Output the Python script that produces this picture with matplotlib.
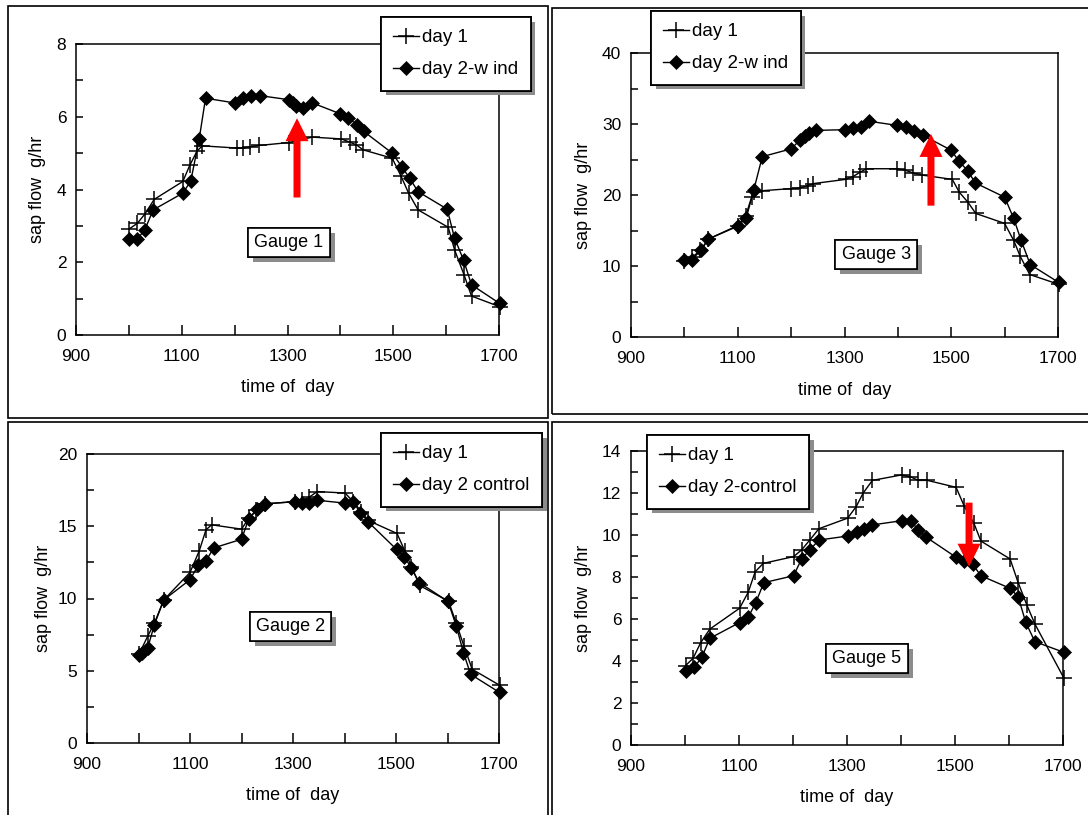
import matplotlib
matplotlib.use("Agg")
import matplotlib.pyplot as plt
import matplotlib.patheffects as pe
from matplotlib.patches import Rectangle
from matplotlib.ticker import MultipleLocator, FixedLocator

plt.rcParams['font.family'] = ['Liberation Sans', 'DejaVu Sans']

# Gauge 1 (wind on day 2)
g1_time_day1 = [1000, 1016, 1030, 1048, 1102, 1115, 1129, 1139, 1204, 1216, 1230, 1246, 1302,
                1347, 1402, 1418, 1430, 1443, 1498, 1515, 1529, 1547, 1604, 1616, 1634, 1648, 1701]
g1_flow_day1 = [2.91, 3.07, 3.32, 3.73, 4.22, 4.66, 5.06, 5.20, 5.14, 5.14, 5.18, 5.21, 5.29,
                5.44, 5.39, 5.30, 5.23, 5.09, 4.86, 4.36, 3.90, 3.44, 2.96, 2.34, 1.65, 1.07, 0.78]
g1_time_day2 = [1000, 1016, 1030, 1046, 1102, 1117, 1133, 1145, 1200, 1216, 1231, 1248, 1302, 1311,
                1317, 1330, 1347, 1400, 1415, 1432, 1444, 1498, 1517, 1531, 1547, 1602, 1616, 1633,
                1648, 1701]
g1_flow_day2 = [2.64, 2.64, 2.89, 3.44, 3.90, 4.23, 5.39, 6.51, 6.38, 6.51, 6.58, 6.58, 6.47, 6.38,
                6.30, 6.24, 6.38, 6.08, 5.96, 5.78, 5.60, 5.00, 4.61, 4.31, 3.94, 3.46, 2.66, 2.06,
                1.38, 0.87]

# Gauge 3 (wind on day 2)
g3_time_day1 = [1000, 1014, 1030, 1045, 1100, 1115, 1126, 1130, 1145, 1200, 1216, 1231, 1241, 1302,
                1316, 1329, 1341, 1399, 1413, 1429, 1446, 1502, 1515, 1531, 1546, 1600, 1617, 1629,
                1647, 1702]
g3_flow_day1 = [10.7, 11.2, 12.2, 13.8, 15.7, 17.1, 19.7, 20.4, 20.6, 20.9, 21.0, 21.3, 21.6, 22.2,
                22.6, 23.2, 23.7, 23.7, 23.5, 23.1, 22.8, 22.2, 20.4, 19.0, 17.4, 16.0, 13.6, 11.4,
                8.8, 7.4]
g3_time_day2 = [1000, 1014, 1031, 1045, 1100, 1116, 1130, 1146, 1200, 1216, 1226, 1234, 1246, 1301,
                1315, 1330, 1345, 1399, 1416, 1430, 1447, 1500, 1514, 1531, 1545, 1600, 1617, 1631,
                1648, 1701]
g3_flow_day2 = [10.8, 10.9, 12.2, 13.8, 15.6, 16.8, 20.7, 25.4, 26.5, 27.7, 28.3, 28.7, 29.1, 29.2,
                29.4, 29.6, 30.4, 29.8, 29.6, 29.0, 28.4, 26.3, 24.8, 23.4, 21.7, 19.7, 16.7, 13.6,
                10.2, 7.7]

# Gauge 2 (control on day 2)
g2_time_day1 = [1001, 1018, 1031, 1049, 1100, 1118, 1131, 1142, 1200, 1215, 1229, 1245, 1303, 1318,
                1331, 1347, 1401, 1417, 1433, 1446, 1502, 1517, 1530, 1546, 1602, 1617, 1632, 1648,
                1701]
g2_flow_day1 = [6.15, 7.4, 8.3, 9.9, 11.8, 13.3, 14.75, 15.1, 14.8, 15.6, 16.1, 16.55, 16.7, 16.8,
                17.0, 17.4, 17.3, 16.7, 16.0, 15.4, 14.5, 13.3, 12.2, 10.9, 9.8, 8.3, 6.7, 5.1, 4.0]
g2_time_day2 = [1001, 1006, 1018, 1031, 1049, 1100, 1116, 1131, 1146, 1200, 1214, 1231, 1246, 1303,
                1317, 1332, 1347, 1401, 1417, 1431, 1446, 1501, 1516, 1530, 1545, 1601, 1617, 1631,
                1645, 1701]
g2_flow_day2 = [6.1, 6.25, 6.6, 8.2, 9.9, 11.3, 12.3, 12.6, 13.5, 14.1, 15.5, 16.2, 16.55, 16.7,
                16.6, 16.6, 16.8, 16.6, 16.65, 15.95, 15.3, 13.4, 12.9, 12.1, 11.1, 9.8, 8.1, 6.25,
                4.75, 3.5]

# Gauge 5 (control on day 2)
g5_time_day1 = [1001, 1015, 1029, 1046, 1101, 1117, 1130, 1145, 1201, 1216, 1231, 1248, 1301, 1317,
                1330, 1347, 1401, 1417, 1432, 1449, 1502, 1517, 1535, 1548, 1602, 1617, 1633, 1648,
                1702]
g5_flow_day1 = [3.78, 4.13, 4.87, 5.52, 6.51, 7.27, 8.25, 8.65, 8.97, 9.29, 9.76, 10.3, 10.8, 11.35,
                12.0, 12.6, 12.86, 12.78, 12.6, 12.6, 12.27, 11.38, 10.56, 9.71, 8.86, 7.73, 6.67,
                5.76, 3.17]
g5_time_day2 = [1001, 1017, 1031, 1046, 1101, 1117, 1131, 1146, 1201, 1216, 1231, 1248, 1301, 1318,
                1331, 1347, 1401, 1418, 1432, 1447, 1502, 1517, 1533, 1548, 1602, 1617, 1631, 1648,
                1702]
g5_flow_day2 = [3.54, 3.70, 4.17, 5.08, 5.83, 6.08, 6.78, 7.73, 8.06, 8.86, 9.29, 9.76, 9.95, 10.16,
                10.29, 10.48, 10.68, 10.68, 10.24, 9.89, 8.94, 8.78, 8.60, 8.06, 7.46, 7.06, 5.84,
                4.92, 4.41]

x_labelled_ticks = [900, 1100, 1300, 1500, 1700]

W, H = 1088, 815
fig = plt.figure(figsize=(W / 100, H / 100), dpi=100)

shadow = [pe.withSimplePatchShadow(offset=(3.5, -3.5), shadow_rgbFace='0.55', alpha=1.0), pe.Normal()]

# outer frames around each of the four pasted plots (pixels: left, top, right, bottom)
for l, t, r, b in [(8, 6, 548, 418), (552, 8, 1092, 414), (8, 422, 548, 819), (552, 422, 1092, 819)]:
    fig.add_artist(Rectangle((l / W, 1 - b / H), (r - l) / W, (b - t) / H, transform=fig.transFigure,
                             fill=False, lw=1.2, ec='black'))

panels = [
    dict(box=(76, 44, 499, 335), ymax=8, ystep=2, t1=g1_time_day1, f1=g1_flow_day1,
         t2=g1_time_day2, f2=g1_flow_day2, lab2='day 2-w ind', gauge='Gauge 1', gpos=(0.503, 0.318),
         leg=(381, 17), ylx=-0.092, xly=-0.182, arrow=(1318, 3.78, 5.96)),
    dict(box=(631, 53, 1058, 337), ymax=40, ystep=10, t1=g3_time_day1, f1=g3_flow_day1,
         t2=g3_time_day2, f2=g3_flow_day2, lab2='day 2-w ind', gauge='Gauge 3', gpos=(0.574, 0.29),
         leg=(651, 11), ylx=-0.112, xly=-0.187, arrow=(1462, 18.5, 28.6)),
    dict(box=(87, 454, 499, 743), ymax=20, ystep=5, t1=g2_time_day1, f1=g2_flow_day1,
         t2=g2_time_day2, f2=g2_flow_day2, lab2='day 2 control', gauge='Gauge 2', gpos=(0.494, 0.403),
         leg=(381, 433), ylx=-0.106, xly=-0.18, arrow=None),
    dict(box=(631, 451, 1063, 745), ymax=14, ystep=2, t1=g5_time_day1, f1=g5_flow_day1,
         t2=g5_time_day2, f2=g5_flow_day2, lab2='day 2-control', gauge='Gauge 5', gpos=(0.546, 0.294),
         leg=(647, 435), ylx=-0.111, xly=-0.177, arrow=(1526, 11.54, 8.49)),
]

for p in panels:
    l, t, r, b = p['box']
    ax = fig.add_axes([l / W, 1 - b / H, (r - l) / W, (b - t) / H])
    ax.plot(p['t1'], p['f1'], color='black', lw=1.0, marker='+', ms=11, mew=1.1, clip_on=False,
            label='day 1', zorder=3)
    ax.plot(p['t2'], p['f2'], color='black', lw=1.0, marker='D', ms=6.8, mew=0.5, clip_on=False,
            label=p['lab2'], zorder=3)
    ax.set_xlim(900, 1700)
    ax.set_ylim(0, p['ymax'])
    ax.xaxis.set_major_locator(FixedLocator(x_labelled_ticks))
    ax.xaxis.set_minor_locator(MultipleLocator(100))
    ax.yaxis.set_major_locator(MultipleLocator(p['ystep']))
    ax.yaxis.set_minor_locator(MultipleLocator(p['ystep'] / 2))
    ax.tick_params(axis='x', which='both', direction='in', length=7, width=1.1, pad=10, labelsize=12.5)
    ax.tick_params(axis='y', which='both', direction='in', length=5, width=1.1, pad=7, labelsize=12.5)
    for s in ax.spines.values():
        s.set_linewidth(1.1)

    ax.set_xlabel('time of  day', fontsize=13)
    ax.set_ylabel('sap flow  g/hr', fontsize=13)
    ax.xaxis.set_label_coords(0.5, p['xly'])
    ax.yaxis.set_label_coords(p['ylx'], 0.5)
    ax.xaxis.label.set_verticalalignment('center')
    ax.yaxis.label.set_verticalalignment('center')

    gx, gy = p['gpos']
    gt = ax.text(gx, gy, p['gauge'], transform=ax.transAxes, ha='center', va='center', fontsize=13,
                 bbox=dict(boxstyle='square,pad=0.35', fc='white', ec='black', lw=1.2), zorder=5)
    gt.get_bbox_patch().set_path_effects(shadow)

    if p['arrow'] is not None:
        ax_x, y0, y1 = p['arrow']
        xpp = 800 / (r - l)
        ypp = p['ymax'] / (b - t)
        ax.arrow(ax_x, y0, 0, y1 - y0, width=7 * xpp, head_width=23 * xpp, head_length=23 * ypp,
                 length_includes_head=True, color='#ff0000', lw=0, zorder=6)

    lx, ly = p['leg']
    leg = ax.legend(loc='upper left', bbox_to_anchor=(lx / W, 1 - ly / H), bbox_transform=fig.transFigure,
                    fontsize=13.5, frameon=True, fancybox=False, edgecolor='black', framealpha=1,
                    handlelength=1.4, handletextpad=0.15, borderpad=0.65, labelspacing=0.8,
                    numpoints=1, borderaxespad=0)
    leg.get_frame().set_linewidth(1.3)
    leg.get_frame().set_path_effects(shadow)
    leg.set_zorder(10)

fig.savefig('out.png', dpi=100)
